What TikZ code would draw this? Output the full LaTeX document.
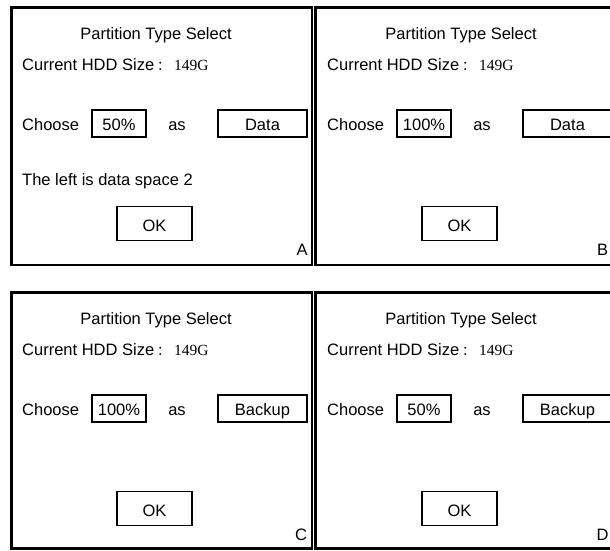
\documentclass[tikz,border=0pt]{standalone}
\usepackage{fontspec}
\setmainfont{Liberation Sans}
\newfontfamily\numfont{Liberation Serif}
\newfontfamily\cjk{Noto Sans CJK SC}
\tikzset{
  panelframe/.style={draw=black, line width=2.6pt},
  txt/.style={font=\fontsize{16.5}{18}\selectfont, inner sep=0pt, anchor=base west},
  ctxt/.style={txt, anchor=base},
  field/.style={draw=black, line width=1.5pt, inner sep=0pt, font=\fontsize{16.5}{18}\selectfont,
                minimum height=27pt, text height=13pt, text depth=0pt},
  pct/.style={field, minimum width=54pt},
  kind/.style={field, minimum width=89pt},
  okbtn/.style={field, minimum width=75pt, minimum height=34pt, text height=16pt},
}
\newcommand{\mypanel}[7]{%
  % #1 x offset, #2 y offset, #3 name prefix, #4 percent, #5 type, #6 letter, #7 letter x
  \begin{scope}[shift={(#1,#2)}, name prefix=#3-]
    \node[ctxt] (title) at (156,39) {Partition Type Select};
    \node[txt] (size) at (22,70) {Current HDD Size};
    \node[txt, font=\cjk\fontsize{13}{14}\selectfont] (colon) at (157,70) {：};
    \node[txt, font=\numfont\fontsize{15.5}{16}\selectfont] (val) at (174,70) {149G};
    \node[txt] (choose) at (22,130) {Choose};
    \node[pct] (pct) at (119,123.5) {#4};
    \node[ctxt] (as) at (177,130) {as};
    \node[kind] (kind) at (262.5,123.5) {#5};
    \node[okbtn] (ok) at (154.5,223.5) {OK};
    \node[ctxt] (letter) at (#7,255.5) {#6};
  \end{scope}}
\begin{document}
\begin{tikzpicture}[x=1pt,y=-1pt]
  \clip (0,0) rectangle (610,550);
  \fill[white] (0,0) rectangle (610,550);
  % frames
  \draw[panelframe] (11.5,7.5) rectangle (312,265);
  \draw[panelframe] (315.5,7.5) rectangle (620,265);
  \draw[panelframe] (11.5,292.5) rectangle (312,548.5);
  \draw[panelframe] (315.5,292.5) rectangle (620,548.5);
  % panels
  \mypanel{0}{0}{A}{50\%}{Data}{A}{302}
  \node[txt] (A-left) at (22,185) {The left is data space 2};
  \mypanel{305}{0}{B}{100\%}{Data}{B}{297.5}
  \mypanel{0}{285}{C}{100\%}{Backup}{C}{301}
  \mypanel{305}{285}{D}{50\%}{Backup}{D}{297.5}
\end{tikzpicture}
\end{document}
